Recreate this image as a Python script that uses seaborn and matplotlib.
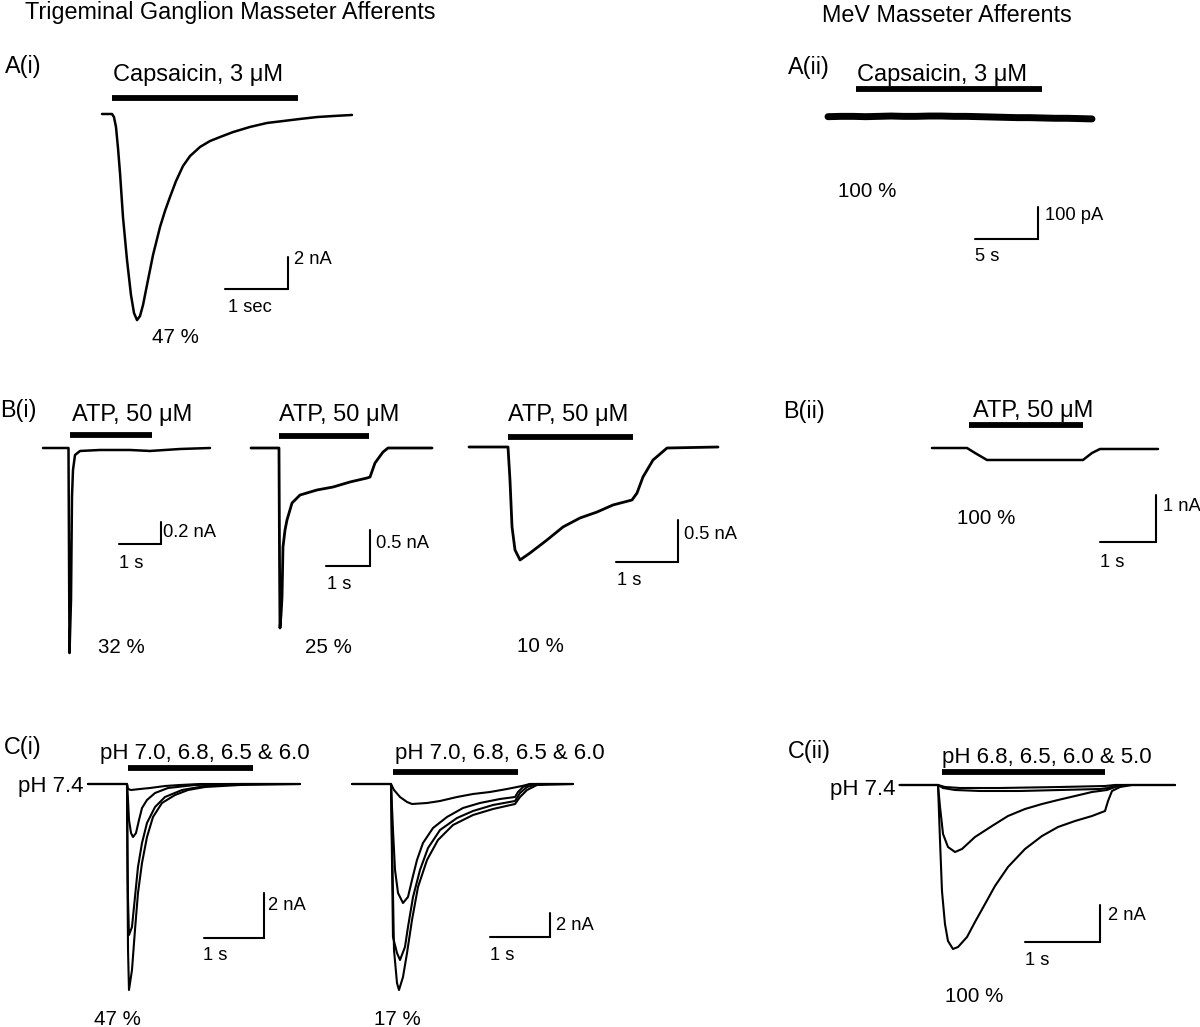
import matplotlib
matplotlib.use("Agg")
import matplotlib.pyplot as plt
import numpy as np
import pandas as pd
import seaborn as sns

sns.set_theme(style="white")
plt.rcParams["font.family"] = ["Liberation Sans", "DejaVu Sans"]

W, H, DPI = 1200, 1027, 100

# ---------------- DATA (time in s, current in nA) ----------------
# A(i) TG capsaicin
a1_t = [0, 0.159, 0.19, 0.222, 0.254, 0.286, 0.333, 0.397, 0.46, 0.508, 0.556, 0.603, 0.651,
        0.714, 0.81, 0.921, 1.0, 1.079, 1.175, 1.286, 1.397, 1.556, 1.714, 1.873, 2.079,
        2.349, 2.619, 2.873, 3.143, 3.413, 3.698, 3.968]
a1_i = [0, 0, -0.19, -0.81, -2.13, -3.69, -6.44, -9.13, -11.31, -12.44, -12.88, -12.63, -11.94,
        -10.69, -8.81, -7.06, -6.06, -5.19, -4.19, -3.25, -2.63, -2.06, -1.69, -1.44, -1.13,
        -0.81, -0.56, -0.44, -0.31, -0.19, -0.12, -0.06]
# A(ii) MeV capsaicin (no response)
a2_t = [0, 1, 2, 3, 4, 5, 6, 7, 8, 9, 10, 11, 12, 13, 14, 15, 16, 17, 18, 19, 20, 20.95]
a2_i = [0.001, 0.002, 0.002, 0.001, 0.002, 0.003, 0.002, 0.002, 0.003, 0.003, 0.002,
        0.002, 0.001, 0.000, -0.001, -0.002, -0.002, -0.003, -0.004, -0.004, -0.005, -0.006]
# B(i) TG ATP, three cells
b1_t = [0, 0.607, 0.631, 0.667, 0.690, 0.714, 0.762, 0.881, 1.357, 2.071, 2.548, 3.262, 3.976]
b1_i = [0, 0, -1.864, -1.38, -0.445, -0.2, -0.064, -0.027, -0.018, -0.018, -0.027, -0.009, 0]
b2_t = [0, 0.636, 0.648, 0.659, 0.682, 0.705, 0.727, 0.773, 0.818, 0.932, 1.114, 1.5,
        1.864, 2.25, 2.636, 2.705, 2.818, 3.0, 3.114, 4.114]
b2_i = [0, 0, -1.556, -2.5, -2.32, -2.07, -1.375, -1.139, -1.0, -0.764, -0.653, -0.583,
        -0.542, -0.472, -0.417, -0.403, -0.208, -0.056, 0, 0]
b3_t = [0, 0.629, 0.661, 0.694, 0.742, 0.823, 0.984, 1.258, 1.516, 1.790, 2.065, 2.323,
        2.629, 2.710, 2.806, 2.968, 3.194, 4.016]
b3_i = [0, 0, -0.393, -0.952, -1.226, -1.345, -1.262, -1.107, -0.952, -0.845, -0.774,
        -0.690, -0.631, -0.548, -0.357, -0.155, -0.012, 0]
# B(ii) MeV ATP
b4_t = [0, 0.625, 0.768, 0.982, 2.696, 2.857, 3.0, 4.036]
b4_i = [0, 0, -0.106, -0.255, -0.255, -0.106, -0.021, -0.021]
# C(i) TG acid, cell 1 (pH 7.0, 6.8, 6.5, 6.0)
c1a_t = [0, 0.65, 0.667, 0.717, 0.867, 1.033, 1.283, 1.533, 1.867, 3.533]
c1a_i = [0, 0, -0.222, -0.267, -0.222, -0.178, -0.089, -0.044, 0, 0]
c1b_t = [0, 0.65, 0.667, 0.683, 0.717, 0.75, 0.8, 0.85, 0.9, 0.983, 1.117, 1.333, 1.783, 2.367, 3.533]
c1b_i = [0, 0, -0.711, -1.6, -2.178, -2.356, -2.178, -1.6, -1.067, -0.711, -0.4, -0.178, -0.044, 0, 0]
c1c_t = [0, 0.65, 0.658, 0.667, 0.683, 0.733, 0.783, 0.833, 0.9, 0.983, 1.117, 1.283, 1.567, 1.95, 2.533, 3.533]
c1c_i = [0, 0, -2.933, -5.156, -6.711, -6.356, -5.022, -3.689, -2.622, -1.733, -1.022, -0.578,
         -0.267, -0.089, 0, 0]
c1d_t = [0, 0.65, 0.658, 0.667, 0.683, 0.733, 0.783, 0.833, 0.9, 0.983, 1.083, 1.233, 1.45,
         1.667, 1.95, 2.533, 3.533]
c1d_i = [0, 0, -4.267, -7.378, -9.156, -8.267, -6.489, -4.844, -3.511, -2.356, -1.467, -0.844,
         -0.489, -0.267, -0.133, -0.044, 0]
# C(i) TG acid, cell 2
c2a_t = [0, 0.65, 0.7, 0.8, 0.917, 1.0, 1.25, 1.467, 1.75, 2.017, 2.3, 2.583, 2.75, 2.833, 2.967, 3.683]
c2a_i = [0, 0, -0.5, -1.083, -1.5, -1.667, -1.583, -1.417, -1.083, -0.833, -0.667, -0.417,
         -0.25, -0.167, 0, 0]
c2b_t = [0, 0.65, 0.683, 0.717, 0.767, 0.85, 0.933, 1.0, 1.083, 1.183, 1.35, 1.583, 1.85,
         2.133, 2.467, 2.717, 2.767, 2.85, 2.967, 3.683]
c2b_i = [0, 0, -3.833, -7.167, -9.083, -9.917, -9.417, -8.0, -6.333, -4.917, -3.667, -2.75,
         -2.0, -1.583, -1.25, -1.083, -0.667, -0.25, 0, 0]
c2c_t = [0, 0.65, 0.683, 0.75, 0.8, 0.883, 0.933, 1.017, 1.133, 1.267, 1.467, 1.75, 2.017,
         2.35, 2.717, 2.8, 2.917, 3.083, 3.683]
c2c_i = [0, 0, -12.75, -14.083, -14.667, -13.583, -11.917, -9.417, -7.167, -5.333, -3.833,
         -2.833, -2.25, -1.75, -1.417, -0.75, -0.25, 0, 0]
c2d_t = [0, 0.65, 0.7, 0.75, 0.783, 0.85, 0.917, 1.0, 1.1, 1.25, 1.433, 1.683, 2.017, 2.35,
         2.717, 2.8, 2.917, 3.083, 3.683]
c2d_i = [0, 0, -13.833, -16.583, -17.167, -16.083, -14.083, -11.333, -8.583, -6.333, -4.667,
         -3.417, -2.583, -2.083, -1.667, -1.083, -0.5, -0.083, 0]
# C(ii) MeV acid (pH 6.8, 6.5, 6.0, 5.0)
c3a_t = [0.17, 0.68, 0.773, 0.973, 1.507, 2.307, 2.907, 3.04, 3.84]
c3a_i = [0, 0, -0.108, -0.162, -0.162, -0.108, -0.054, 0, 0]
c3b_t = [0.17, 0.68, 0.747, 0.907, 1.24, 1.773, 2.307, 2.84, 2.947, 3.04, 3.84]
c3b_i = [0, 0, -0.162, -0.27, -0.324, -0.324, -0.27, -0.216, -0.162, 0, 0]
c3c_t = [0.17, 0.68, 0.707, 0.747, 0.813, 0.907, 1.0, 1.173, 1.4, 1.613, 1.84, 2.067, 2.28,
         2.507, 2.733, 2.933, 3.04, 3.173, 3.84]
c3c_i = [0, 0, -1.189, -2.649, -3.351, -3.622, -3.459, -2.811, -2.216, -1.676, -1.297, -1.027,
         -0.811, -0.595, -0.378, -0.27, -0.108, 0, 0]
c3d_t = [0.17, 0.68, 0.707, 0.733, 0.773, 0.813, 0.88, 0.947, 1.067, 1.173, 1.307, 1.44, 1.613,
         1.84, 2.067, 2.28, 2.507, 2.733, 2.907, 2.947, 3.0, 3.107, 3.267, 3.84]
c3d_i = [0, 0, -3.027, -5.73, -7.514, -8.432, -8.865, -8.757, -8.216, -7.405, -6.432, -5.459,
         -4.432, -3.459, -2.757, -2.27, -1.946, -1.676, -1.405, -0.865, -0.324, -0.108, 0, 0]

# drug application periods (s)
app_start = [0.16, 2.22, 0.64, 0.636, 0.63, 0.66, 0.667, 0.683, 0.733]
app_stop = [3.11, 16.98, 2.60, 2.68, 2.65, 2.70, 2.75, 2.77, 2.907]
# scale bar sizes (s, nA) and their labels
sb_time = [1, 5, 1, 1, 1, 1, 1, 1, 1]
sb_curr = [2, 0.1, 0.2, 0.5, 0.5, 1, 2, 2, 2]
sb_tlab = ["1 sec", "5 s", "1 s", "1 s", "1 s", "1 s", "1 s", "1 s", "1 s"]
sb_clab = ["2 nA", "100 pA", "0.2 nA", "0.5 nA", "0.5 nA", "1 nA", "2 nA", "2 nA", "2 nA"]
drug_labels = ["Capsaicin, 3 μM", "Capsaicin, 3 μM", "ATP, 50 μM", "ATP, 50 μM", "ATP, 50 μM",
               "ATP, 50 μM", "pH 7.0, 6.8, 6.5 & 6.0", "pH 7.0, 6.8, 6.5 & 6.0",
               "pH 6.8, 6.5, 6.0 & 5.0"]
percent_labels = ["47 %", "100 %", "32 %", "25 %", "10 %", "100 %", "47 %", "17 %", "100 %"]

traces = [
    [(a1_t, a1_i)],
    [(a2_t, a2_i)],
    [(b1_t, b1_i)],
    [(b2_t, b2_i)],
    [(b3_t, b3_i)],
    [(b4_t, b4_i)],
    [(c1a_t, c1a_i), (c1b_t, c1b_i), (c1c_t, c1c_i), (c1d_t, c1d_i)],
    [(c2a_t, c2a_i), (c2b_t, c2b_i), (c2c_t, c2c_i), (c2d_t, c2d_i)],
    [(c3a_t, c3a_i), (c3b_t, c3b_i), (c3c_t, c3c_i), (c3d_t, c3d_i)],
]

# ---------------- LAYOUT (pixels) ----------------
origin = [(102, 114), (828, 117), (43, 448), (251, 448), (469, 447), (932, 448),
          (88, 784), (352, 784), (887, 785)]
px_s = [63, 12.6, 42, 44, 62, 56, 60, 60, 75]
px_nA = [16, 320, 110, 72, 84, 47, 22.5, 12, 18.5]
trace_lw = [1.8, 5.0, 1.8, 2.0, 2.0, 1.8, 1.5, 1.5, 1.5]
bar_y = [98, 89, 435, 436, 437, 425, 768, 772, 772]
sb_corner = [(288, 289), (1038, 239), (161, 544), (370, 566), (678, 562), (1156, 542),
             (264, 938), (550, 937), (1100, 942)]
drug_pos = [(113, 72), (857, 73), (72, 412), (279, 412), (508, 412), (973, 409),
            (100, 751), (395, 751), (942, 755)]
drug_pt = [17, 17, 17, 17, 17, 17, 16, 16, 16]
pct_pos = [(152, 336), (838, 190), (98, 646), (305, 646), (517, 645), (957, 517),
           (94, 1018), (374, 1018), (945, 995)]
tlab_pos = [(228, 305), (975, 254), (119, 561), (327, 582), (617, 578), (1100, 560),
            (203, 953), (490, 953), (1025, 958)]
clab_pos = [(294, 257), (1045, 213), (163, 530), (376, 541), (684, 532), (1163, 504),
            (268, 903), (556, 923), (1108, 913)]

fig = plt.figure(figsize=(W / DPI, H / DPI), dpi=DPI)
fig.patch.set_facecolor("white")

tax = fig.add_axes([0, 0, 1, 1])
tax.set_xlim(0, W)
tax.set_ylim(H, 0)
tax.axis("off")


def put(txt, x, y, pt, ha="left"):
    px = pt * DPI / 72.0
    tax.text(x, y + 0.36 * px, txt, fontsize=pt, ha=ha, va="baseline", color="black")


TITLE_PT, SB_PT, PCT_PT = 16.8, 13.2, 14.8

put("Trigeminal Ganglion Masseter Afferents", 25, 11, TITLE_PT)
put("MeV Masseter Afferents", 822, 14, TITLE_PT)
for s, (x, y) in zip(["A(i)", "A(ii)", "B(i)", "B(ii)", "C(i)", "C(ii)"],
                     [(5, 65), (788, 66), (0, 409), (783, 410), (4, 746), (788, 750)]):
    put(s, x, y, 16.8)
put("pH 7.4", 84, 784, 16, ha="right")
put("pH 7.4", 895, 787, 16, ha="right")

for k in range(9):
    x0, y0 = origin[k]
    sx, sy = px_s[k], px_nA[k]
    ax = fig.add_axes([0, 0, 1, 1])
    ax.axis("off")
    ax.patch.set_alpha(0)

    rows = []
    for j, (tt, ii) in enumerate(traces[k]):
        for t, i in zip(tt, ii):
            rows.append({"t": t, "I": i, "trace": j})
    df = pd.DataFrame(rows)
    sns.lineplot(data=df, x="t", y="I", units="trace", estimator=None, sort=False,
                 color="black", linewidth=trace_lw[k], legend=False, ax=ax)
    ax.set_xlim(-x0 / sx, (W - x0) / sx)
    ax.set_ylim((y0 - H) / sy, y0 / sy)
    ax.set_xlabel("")
    ax.set_ylabel("")

    by = (y0 - bar_y[k]) / sy
    ax.plot([app_start[k], app_stop[k]], [by, by], color="black", lw=4.2,
            solid_capstyle="butt")

    cx, cy = sb_corner[k]
    ct = (cx - x0) / sx
    ci = (y0 - cy) / sy
    ax.plot([ct - sb_time[k], ct, ct], [ci, ci, ci + sb_curr[k]], color="black", lw=1.5,
            solid_joinstyle="miter")

    put(drug_labels[k], *drug_pos[k], drug_pt[k])
    put(percent_labels[k], *pct_pos[k], PCT_PT)
    put(sb_tlab[k], *tlab_pos[k], SB_PT)
    put(sb_clab[k], *clab_pos[k], SB_PT)

fig.savefig("out.png", dpi=DPI, facecolor="white")
